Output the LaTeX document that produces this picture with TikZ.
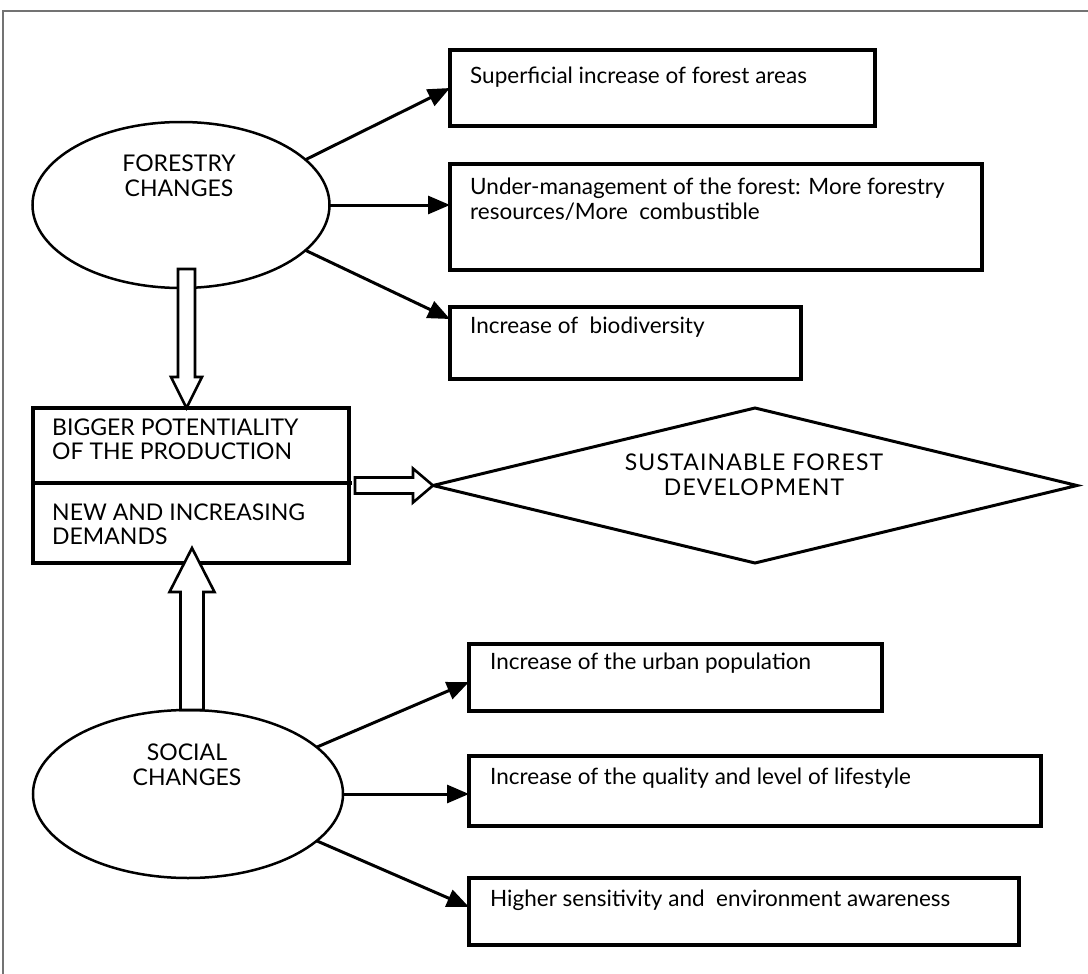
\documentclass[tikz,border=0pt]{standalone}
\usepackage{fontspec}
\setmainfont{Lato}
\newfontfamily\widefont[LetterSpace=5]{Lato}
\usetikzlibrary{arrows.meta,calc,shapes.geometric}
\tikzset{
  box/.style={draw, line width=3.1pt, anchor=north west, inner sep=0pt, outer sep=0pt},
  oval/.style={draw, ellipse, line width=2.5pt, inner sep=0pt, outer sep=0pt},
  txt/.style={anchor=north west, inner sep=0pt, align=left, font=\fontsize{22.5}{25}\selectfont},
  captxt/.style={inner sep=0pt, align=center, font=\fontsize{23}{25}\selectfont},
  widetxt/.style={inner sep=0pt, align=center, font=\widefont\fontsize{23}{25}\selectfont},
  lcap/.style={anchor=north west, inner sep=0pt, align=left, font=\fontsize{23}{23.5}\selectfont},
  link/.style={line width=3pt, -{Triangle[length=22pt,width=18pt]}},
  hollow/.style={draw, fill=white, line width=2.6pt, line join=miter},
  frame/.style={draw=black!55, line width=1.2pt}
}
\begin{document}
\begin{tikzpicture}[x=1pt,y=-1pt]
\useasboundingbox (0,0) rectangle (1088,974);
% frame
\coordinate (fa) at (3,974);
\coordinate (fb) at (3,11);
\coordinate (fc) at (1088,11);
\draw[frame] (fa) -- (fb) -- (fc);

% forestry part
\node[oval, minimum width=297pt, minimum height=166pt] (fe) at (181,205) {};
\node[captxt] (fet) at (179,175.5) {FORESTRY\\CHANGES};
\node[box, minimum width=425pt, minimum height=76pt] (b1) at (450,50) {};
\node[box, minimum width=532pt, minimum height=106pt] (b2) at (450,164) {};
\node[box, minimum width=351pt, minimum height=72pt] (b3) at (450,307) {};
\node[txt] (t1) at (470,67) {Superficial increase of forest areas};
\node[txt] (t2) at (470,178) {Under-management of the forest: More forestry\\resources/More\ \ combustible};
\node[txt] (t3) at (470,317) {Increase of\ \ biodiversity};
\draw[link] (fe.20) -- (b1.west);
\draw[link] (fe.east) -- (fe.east -| b2.west);
\draw[link] (fe.-20) -- ([yshift=-12pt]b3.north west);

% central box
\node[box, minimum width=316pt, minimum height=155pt] (lb) at (33,408) {};
\draw[line width=3.1pt] ([yshift=2.5pt]lb.west) -- ([xshift=3pt,yshift=2.5pt]lb.east);
\node[lcap] (lt1) at (52,419) {BIGGER POTENTIALITY\\OF THE PRODUCTION};
\node[lcap] (lt2) at (52,504) {NEW AND INCREASING\\DEMANDS};

% diamond
\node[draw, diamond, line width=3pt, minimum width=644pt, minimum height=155pt, inner sep=0pt, outer sep=0pt] (dia) at (755,485.5) {};
\node[widetxt] (diat) at (754,475) {SUSTAINABLE FOREST\\DEVELOPMENT};

% social part
\node[oval, minimum width=310pt, minimum height=168pt] (se) at (188,794) {};
\node[captxt] (set) at (187,765) {SOCIAL\\CHANGES};
\node[box, minimum width=413pt, minimum height=67pt] (b4) at (469,644) {};
\node[box, minimum width=572pt, minimum height=70pt] (b5) at (469,756) {};
\node[box, minimum width=550pt, minimum height=67pt] (b6) at (469,878) {};
\node[txt] (t4) at (490,653) {Increase of the urban population};
\node[txt] (t5) at (490,768) {Increase of the quality and level of lifestyle};
\node[txt] (t6) at (490,890) {Higher sensitivity and\ \ environment awareness};
\draw[link] (se.20) -- ([yshift=-38pt]b4.north west);
\draw[link] (se.east) -- (se.east -| b5.west);
\draw[link] (se.-20) -- ([yshift=-29pt]b6.north west);

% hollow arrows
\coordinate (ds) at ([xshift=5.5pt,yshift=19pt]fe.south);
\path let \p1=(ds), \p2=(lb.north) in
  [hollow] (\x1-8.5pt,\y1) -- (\x1-8.5pt,\y2+31pt) -- (\x1-15.5pt,\y2+31pt) -- (\x1,\y2)
  -- (\x1+15.5pt,\y2+31pt) -- (\x1+8.5pt,\y2+31pt) -- (\x1+8.5pt,\y1) -- cycle;

\coordinate (us) at ([xshift=4pt]se.north);
\coordinate (ue) at ([yshift=15pt]lb.south);
\path let \p1=(us), \p2=(ue) in
  [hollow] (\x1-11.5pt,\y1) -- (\x1-11.5pt,\y2-44pt) -- (\x1-22.5pt,\y2-44pt) -- (\x1,\y2)
  -- (\x1+22.5pt,\y2-44pt) -- (\x1+11.5pt,\y2-44pt) -- (\x1+11.5pt,\y1) -- cycle;

\coordinate (rs) at ([xshift=6pt,yshift=2.5pt]lb.east);
\path let \p1=(rs), \p2=(dia.west) in
  [hollow] (\x1,\y2+8pt) -- (\x2-20pt,\y2+8pt) -- (\x2-20pt,\y2+17pt) -- (\x2,\y2)
  -- (\x2-20pt,\y2-17pt) -- (\x2-20pt,\y2-8pt) -- (\x1,\y2-8pt) -- cycle;
\end{tikzpicture}
\end{document}
